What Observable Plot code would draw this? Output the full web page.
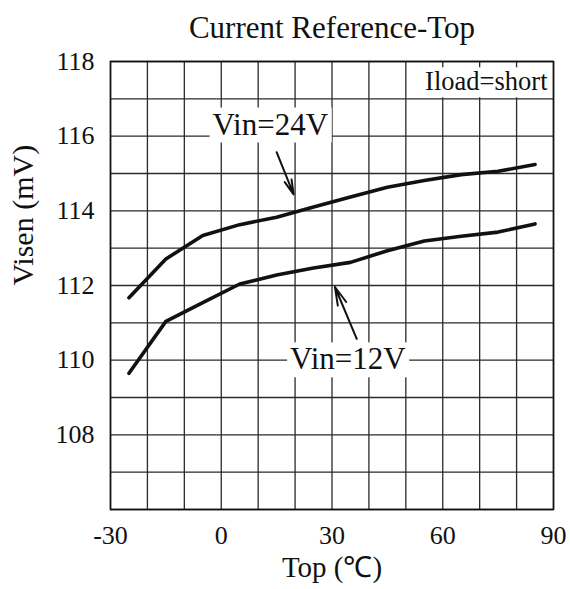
<!DOCTYPE html>
<html>
<head>
<meta charset="utf-8">
<script src="https://cdn.jsdelivr.net/npm/d3@7"></script>
<script src="https://cdn.jsdelivr.net/npm/@observablehq/plot@0.6"></script>
<style>
  html, body { margin: 0; padding: 0; background: #fff; }
</style>
</head>
<body>
<script>
// ---- data ----
const temps = [-25, -15, -5, 5, 15, 25, 35, 45, 55, 65, 75, 85];
const vin24 = [111.67, 112.71, 113.34, 113.63, 113.83, 114.10, 114.37, 114.63, 114.81, 114.97, 115.06, 115.24];
const vin12 = [109.65, 111.04, 111.54, 112.04, 112.28, 112.47, 112.62, 112.93, 113.19, 113.32, 113.43, 113.65];

const xTickLabels = [-30, 0, 30, 60, 90];
const yTickLabels = [108, 110, 112, 114, 116, 118];
const xGridTicks = [-30, -20, -10, 0, 10, 20, 30, 40, 50, 60, 70, 80, 90];
const yGridTicks = [106, 107, 108, 109, 110, 111, 112, 113, 114, 115, 116, 117, 118];

// annotations (data coordinates)
const annText = ["Vin=24V", "Vin=12V"];
const annT = [13.3, 34.3];
const annV = [116.31, 110.02];
const arrowT1 = [15.0, 36.7];
const arrowV1 = [115.57, 110.57];
const arrowT2 = [19.6, 30.8];
const arrowV2 = [114.44, 111.96];

const titleText = "Current Reference-Top";
const xLabel = "Top (℃)";
const yLabel = "Visen (mV)";
const loadText = "Iload=short";

const rows24 = temps.map((t, i) => ({t, v: vin24[i]}));
const rows12 = temps.map((t, i) => ({t, v: vin12[i]}));
const annRows = annText.map((s, i) => ({s, t: annT[i], v: annV[i]}));
const arrowRows = arrowT1.map((t, i) => ({t1: t, v1: arrowV1[i], t2: arrowT2[i], v2: arrowV2[i]}));

const gridStyle = {stroke: "#2a2a2a", strokeOpacity: 1, strokeWidth: 1.3};

const svg = Plot.plot({
  width: 570,
  height: 589,
  marginLeft: 110,
  marginRight: 17,
  marginTop: 61,
  marginBottom: 80,
  x: {domain: [-30, 90]},
  y: {domain: [106, 118]},
  style: {fontFamily: "'Liberation Serif', 'Times New Roman', serif", fontSize: "26px", color: "#111", background: "#fff"},
  marks: [
    Plot.gridX(xGridTicks, gridStyle),
    Plot.gridY(yGridTicks, gridStyle),
    Plot.axisX(xTickLabels, {tickSize: 0, tickPadding: 16, tickFormat: d => String(d), label: null, fontSize: 26}),
    Plot.axisY(yTickLabels, {tickSize: 0, tickPadding: 16, tickFormat: d => String(d), label: null, fontSize: 26}),
    Plot.line(rows24, {x: "t", y: "v", stroke: "#111", strokeWidth: 3.6}),
    Plot.line(rows12, {x: "t", y: "v", stroke: "#111", strokeWidth: 3.6}),
    Plot.arrow(arrowRows, {x1: "t1", y1: "v1", x2: "t2", y2: "v2", stroke: "#111", strokeWidth: 2, headLength: 16, headAngle: 28}),
    Plot.text(annRows, {x: "t", y: "v", text: "s", fontSize: 31, lineAnchor: "middle", fill: "#111"}),
    Plot.text([loadText], {frameAnchor: "top-right", dx: -6, dy: 10, textAnchor: "end", lineAnchor: "top", fontSize: 26.5, fill: "#111"}),
    Plot.text([titleText], {frameAnchor: "top", dy: -33, lineAnchor: "middle", fontSize: 31, fill: "#111"}),
    Plot.text([xLabel], {frameAnchor: "bottom", dy: 58, lineAnchor: "middle", fontSize: 29, fill: "#111"}),
    Plot.text([yLabel], {frameAnchor: "left", dx: -87, rotate: -90, lineAnchor: "middle", fontSize: 30, fill: "#111"}),
    Plot.frame({stroke: "#111", strokeWidth: 1.6})
  ]
});

document.body.append(svg);

// white boxes behind annotation labels
const ns = "http://www.w3.org/2000/svg";
const boxed = new Set([...annText, loadText]);
svg.querySelectorAll("text").forEach(t => {
  if (!boxed.has(t.textContent)) return;
  const b = t.getBBox();
  const r = document.createElementNS(ns, "rect");
  r.setAttribute("x", b.x - 3);
  r.setAttribute("y", b.y + 1);
  r.setAttribute("width", b.width + 6);
  r.setAttribute("height", b.height);
  r.setAttribute("fill", "#fff");
  if (t.getAttribute("transform")) r.setAttribute("transform", t.getAttribute("transform"));
  t.parentNode.insertBefore(r, t);
});
</script>
</body>
</html>
